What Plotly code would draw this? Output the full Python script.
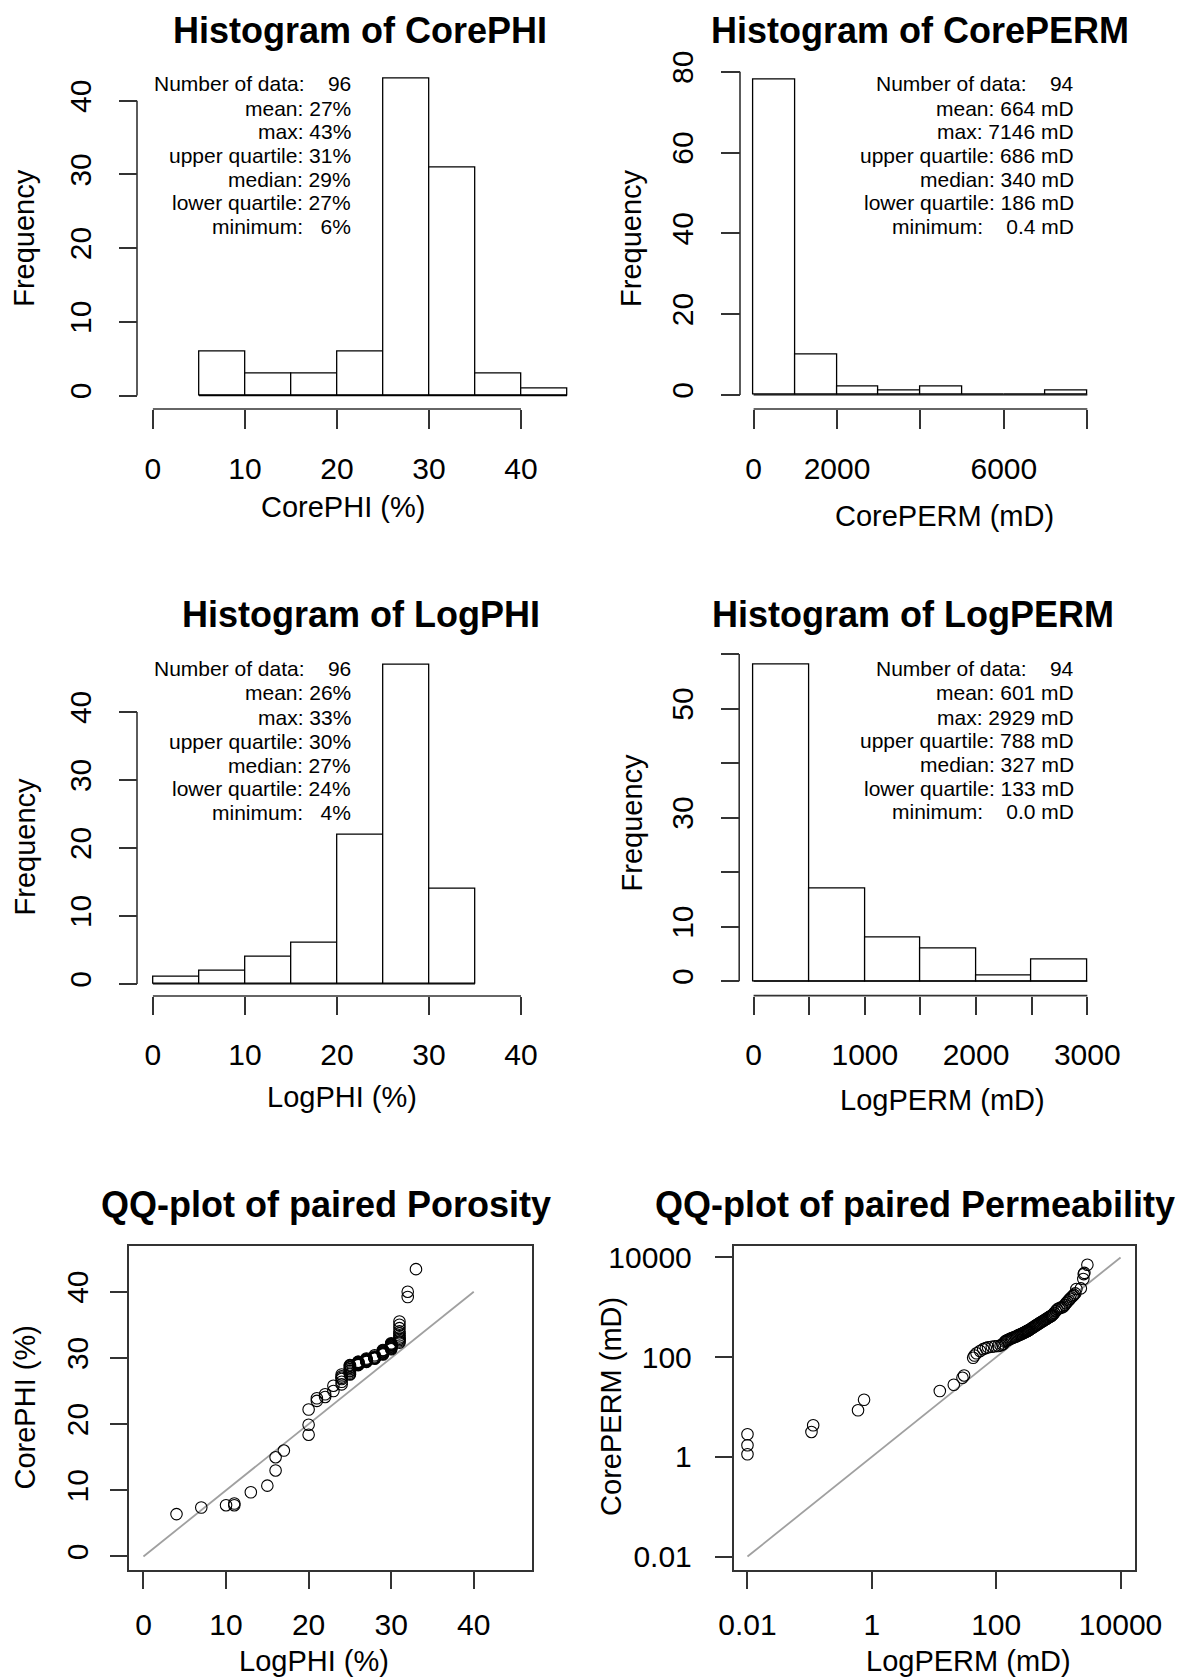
import plotly.graph_objects as go

W, H = 1184, 1679
FONT = "Liberation Sans, Arial, sans-serif"

# ---------------- data ----------------
corephi_edges = [5, 10, 15, 20, 25, 30, 35, 40, 45]
corephi_counts = [6, 3, 3, 6, 43, 31, 3, 1]

coreperm_edges = [0, 1000, 2000, 3000, 4000, 5000, 6000, 7000, 8000]
coreperm_counts = [78, 10, 2, 1, 2, 0, 0, 1]

logphi_edges = [0, 5, 10, 15, 20, 25, 30, 35]
logphi_counts = [1, 2, 4, 6, 22, 47, 14]

logperm_edges = [0, 500, 1000, 1500, 2000, 2500, 3000]
logperm_counts = [58, 17, 8, 6, 1, 4]

corephi_stats = ["Number of data:\u00a0\u00a0\u00a0\u00a096", "mean: 27%", "max: 43%",
                 "upper quartile: 31%", "median: 29%", "lower quartile: 27%",
                 "minimum:\u00a0\u00a0\u00a06%"]
coreperm_stats = ["Number of data:\u00a0\u00a0\u00a0\u00a094", "mean: 664 mD", "max: 7146 mD",
                  "upper quartile: 686 mD", "median: 340 mD", "lower quartile: 186 mD",
                  "minimum:\u00a0\u00a0\u00a0\u00a00.4 mD"]
logphi_stats = ["Number of data:\u00a0\u00a0\u00a0\u00a096", "mean: 26%", "max: 33%",
                "upper quartile: 30%", "median: 27%", "lower quartile: 24%",
                "minimum:\u00a0\u00a0\u00a04%"]
logperm_stats = ["Number of data:\u00a0\u00a0\u00a0\u00a094", "mean: 601 mD", "max: 2929 mD",
                 "upper quartile: 788 mD", "median: 327 mD", "lower quartile: 133 mD",
                 "minimum:\u00a0\u00a0\u00a0\u00a00.0 mD"]

# QQ plot of paired porosity (sorted quantiles)
qq_logphi = [4, 7, 10, 11, 11, 13, 15, 16, 16, 17, 20, 20, 20, 21, 21, 22, 22, 23, 23,
             24, 24, 24, 24, 24, 24,
             25, 25, 25, 25, 25, 25, 25, 25, 25, 25,
             26, 26, 26, 26, 26, 26, 26, 26, 26, 26,
             27, 27, 27, 27, 27, 27, 27, 27,
             28, 28, 28, 28, 28, 28, 28, 28, 28, 28,
             29, 29, 29, 29, 29, 29, 29, 29,
             30, 30, 30, 30, 30, 30, 30, 30, 30, 30, 30,
             31, 31, 31, 31, 31, 31, 31, 31, 31, 31, 31,
             32, 32, 33]
qq_corephi = [6.4, 7.4, 7.75, 7.75, 8.0, 9.7, 10.7, 13.0, 15.0, 16.0, 18.4, 19.9, 22.2,
              23.5, 23.9, 24.1, 24.5, 25.0, 25.8,
              26.0, 26.4, 26.8, 27.0, 27.2, 27.5,
              27.5, 27.6, 27.8, 28.0, 28.1, 28.3, 28.5, 28.6, 28.8, 28.9,
              28.9, 29.0, 29.0, 29.1, 29.2, 29.2, 29.3, 29.3, 29.4, 29.4,
              29.4, 29.5, 29.5, 29.6, 29.7, 29.7, 29.8, 29.9,
              29.9, 29.9, 30.0, 30.0, 30.0, 30.0, 30.0, 30.0, 30.2, 30.4,
              30.5, 30.6, 30.7, 30.8, 30.9, 31.0, 31.1, 31.2,
              31.3, 31.4, 31.5, 31.6, 31.7, 31.8, 31.9, 32.0, 32.0, 32.1, 32.2,
              32.3, 32.5, 32.7, 32.9, 33.1, 33.4, 33.7, 34.0, 34.5, 35.0, 35.5,
              39.2, 40.0, 43.4]

# QQ plot of paired permeability (sorted quantiles)
qq_logperm = [0.01, 0.01, 0.01, 0.107, 0.114, 0.6, 0.75, 12.4, 20.8, 28.7, 30.5,
              42.6, 44.8, 48.3, 55, 61.7, 68, 74, 85, 95, 108, 118, 126, 132,
              138, 144, 150, 157, 164, 172, 180, 189, 198, 208, 218, 228, 238, 248,
              258, 268, 278, 288, 297, 306, 314, 321, 327,
              338, 352, 366, 380, 395, 410, 425, 442, 460, 478, 496,
              515, 540, 565, 590, 615, 640, 665, 690, 715, 740, 760, 780, 790, 820,
              860, 910, 960,
              1030, 1090, 1150, 1210, 1270, 1330, 1400, 1470,
              1540, 1620, 1700, 1780, 1870, 1950,
              2300, 2520, 2560, 2620, 2929]
qq_coreperm = [1.13, 1.71, 2.84, 3.16, 4.3, 8.6, 14, 20.9, 28, 38.6, 43,
               97, 108, 120, 133, 145, 152, 158, 162, 165, 168, 172, 180, 188,
               205, 212, 218, 224, 230, 236, 242, 248, 254, 260, 267, 274, 281, 288,
               295, 302, 309, 316, 322, 328, 334, 338, 342,
               350, 362, 374, 386, 398, 410, 424, 438, 452, 466, 480,
               495, 512, 530, 548, 566, 584, 602, 620, 638, 655, 668, 680, 688, 720,
               770, 840, 910,
               960, 985, 998, 1040, 1120, 1210, 1300, 1390,
               1480, 1580, 1680, 1780, 1900, 2326,
               2400, 3690, 4640, 4900, 7146]

phi_line = [0, 40]
perm_line = [0.01, 10000]

# ---------------- helpers ----------------
def px(x):
    return x / W


def py(y):
    return 1 - y / H


def lin(v, v0, p0, v1, p1):
    return p0 + (v - v0) * (p1 - p0) / (v1 - v0)


AX_COL = "#333333"
AX_W = 1.6
tickfont = dict(family=FONT, size=30, color="black")

fig = go.Figure()
layout = {}
shapes = []


def add_hist(n, edges, counts, xt, xs, yt, ys,
             xpix, xr, ypix, yr, xline_y, yline_x, xlen, ylen):
    xa_id = "x" if n == 1 else "x%d" % n
    ya_id = "y" if n == 1 else "y%d" % n
    centers = [(edges[i] + edges[i + 1]) / 2 for i in range(len(counts))]
    widths = [edges[i + 1] - edges[i] for i in range(len(counts))]
    fig.add_trace(go.Bar(x=centers, y=counts, width=widths, xaxis=xa_id, yaxis=ya_id,
                         marker=dict(color="white", line=dict(color="black", width=1.3)),
                         showlegend=False, hoverinfo="skip"))
    fig.add_trace(go.Scatter(x=[edges[0], edges[-1]], y=[0, 0], xaxis=xa_id, yaxis=ya_id,
                             mode="lines", line=dict(color="black", width=1.3),
                             showlegend=False, hoverinfo="skip"))
    xd = [lin(xr[0], xt[0], xpix[0], xt[-1], xpix[1]), lin(xr[1], xt[0], xpix[0], xt[-1], xpix[1])]
    yd = [lin(yr[0], yt[0], ypix[0], yt[-1], ypix[1]), lin(yr[1], yt[0], ypix[0], yt[-1], ypix[1])]
    layout["xaxis" if n == 1 else "xaxis%d" % n] = dict(
        domain=[px(xd[0]), px(xd[1])], range=xr, anchor="free", position=py(xline_y),
        showline=False, ticks="outside", ticklen=xlen, tickwidth=AX_W, tickcolor=AX_COL,
        showgrid=False, zeroline=False, automargin=False,
        tickvals=xt, ticktext=xs, tickfont=tickfont, ticklabelstandoff=14)
    layout["yaxis" if n == 1 else "yaxis%d" % n] = dict(
        domain=[py(yd[0]), py(yd[1])], range=yr, anchor="free", position=px(yline_x),
        showline=False, ticks="outside", ticklen=ylen, tickwidth=AX_W, tickcolor=AX_COL,
        showgrid=False, zeroline=False, automargin=False,
        tickvals=yt, ticktext=ys, tickfont=tickfont, tickangle=-90, ticklabelstandoff=16)
    # R-style axis lines running from first to last tick
    shapes.append(dict(type="line", xref=xa_id, yref="paper", x0=xt[0], x1=xt[-1],
                       y0=py(xline_y), y1=py(xline_y), line=dict(color=AX_COL, width=AX_W)))
    shapes.append(dict(type="line", xref="paper", yref=ya_id, x0=px(yline_x), x1=px(yline_x),
                       y0=yt[0], y1=yt[-1], line=dict(color=AX_COL, width=AX_W)))


t40 = [0, 10, 20, 30, 40]
s40 = ["0", "10", "20", "30", "40"]

add_hist(1, corephi_edges, corephi_counts, t40, s40, t40, s40,
         (152.9, 521.0), [-1.8, 46.8], (395.5, 100.7), [-1.8, 46], 409, 137, 18.6, 18.1)
add_hist(2, coreperm_edges, coreperm_counts, [0, 2000, 4000, 6000, 8000],
         ["0", "2000", "", "6000", ""], [0, 20, 40, 60, 80], ["0", "20", "40", "60", "80"],
         (753.6, 1087.3), [-320, 8320], (394.9, 71.7), [-3.2, 82], 409, 740, 18.6, 18.9)
add_hist(3, logphi_edges, logphi_counts, t40, s40, t40, s40,
         (152.9, 521.0), [-1.8, 46.8], (983.9, 711.9), [-1.9, 49], 996, 137, 17.9, 18.1)
add_hist(4, logperm_edges, logperm_counts, [0, 500, 1000, 1500, 2000, 2500, 3000],
         ["0", "", "1000", "", "2000", "", "3000"], [0, 10, 20, 30, 40, 50, 60],
         ["0", "10", "", "30", "", "50", ""],
         (753.6, 1087.3), [-120, 3120], (981.2, 654), [-2.4, 61], 995.6, 739.2, 18.3, 18.1)

# QQ porosity
fig.add_trace(go.Scatter(x=phi_line, y=phi_line, xaxis="x5", yaxis="y5", mode="lines",
                         line=dict(color="#a0a0a0", width=1.8), showlegend=False, hoverinfo="skip"))
fig.add_trace(go.Scatter(x=qq_logphi, y=qq_corephi, xaxis="x5", yaxis="y5", mode="markers",
                         marker=dict(symbol="circle-open", size=11.5, color="black",
                                     line=dict(width=1.1, color="black")),
                         showlegend=False, hoverinfo="skip"))
# QQ permeability
fig.add_trace(go.Scatter(x=perm_line, y=perm_line, xaxis="x6", yaxis="y6", mode="lines",
                         line=dict(color="#a0a0a0", width=1.8), showlegend=False, hoverinfo="skip"))
fig.add_trace(go.Scatter(x=qq_logperm, y=qq_coreperm, xaxis="x6", yaxis="y6", mode="markers",
                         marker=dict(symbol="circle-open", size=11.5, color="black",
                                     line=dict(width=1.1, color="black")),
                         showlegend=False, hoverinfo="skip"))


def qq_axes(n, xdom, ydom, xr, yr, xtv, xtt, ytv, ytt, xtype, ya_angle, ystand):
    common = dict(showline=True, mirror=True, linecolor=AX_COL, linewidth=AX_W, ticks="outside",
                  ticklen=17, tickwidth=AX_W, tickcolor=AX_COL, showgrid=False, zeroline=False,
                  automargin=False, tickfont=tickfont, type=xtype)
    layout["xaxis%d" % n] = dict(domain=[px(xdom[0]), px(xdom[1])], range=xr, anchor="y%d" % n,
                                 tickvals=xtv, ticktext=xtt, ticklabelstandoff=10, **common)
    layout["yaxis%d" % n] = dict(domain=[py(ydom[1]), py(ydom[0])], range=yr, anchor="x%d" % n,
                                 tickvals=ytv, ticktext=ytt, tickangle=ya_angle,
                                 ticklabelstandoff=ystand, **common)


qq_axes(5, [129.1, 531.5], [1246.2, 1570], [-1.74, 46.99], [-2.04, 46.87],
        t40, s40, t40, s40, "linear", -90, 10)
pt = [0.01, 1, 100, 10000]
ps = ["0.01", "1", "100", "10000"]
qq_axes(6, [733.6, 1134.9], [1246, 1570], [-2.223, 4.231], [-2.27, 4.23],
        pt, ps, pt, ps, "log", 0, 17)


def ann(text, x, y, size, bold=False, angle=0, xanchor="center"):
    return dict(text=("<b>%s</b>" % text) if bold else text, x=px(x), y=py(y),
                xref="paper", yref="paper", showarrow=False, textangle=angle,
                xanchor=xanchor, yanchor="middle",
                font=dict(family=FONT, size=size, color="black"))


annotations = [
    ann("Histogram of CorePHI", 359.6, 30.4, 36, bold=True),
    ann("Histogram of CorePERM", 920, 30.4, 36, bold=True),
    ann("Histogram of LogPHI", 360.5, 614.4, 36, bold=True),
    ann("Histogram of LogPERM", 912.5, 614.4, 36, bold=True),
    ann("QQ-plot of paired Porosity", 325.6, 1204, 36, bold=True),
    ann("QQ-plot of paired Permeability", 914.8, 1204, 36, bold=True),
    ann("CorePHI (%)", 343, 507, 29),
    ann("CorePERM (mD)", 944, 515.5, 29),
    ann("LogPHI (%)", 341.7, 1096.5, 29),
    ann("LogPERM (mD)", 942, 1100, 29),
    ann("LogPHI (%)", 314, 1661, 29),
    ann("LogPERM (mD)", 968, 1661, 29),
    ann("Frequency", 24.5, 238.3, 29, angle=-90),
    ann("Frequency", 631.6, 238.3, 29, angle=-90),
    ann("Frequency", 24.5, 846.9, 29, angle=-90),
    ann("Frequency", 631.6, 822.8, 29, angle=-90),
    ann("CorePHI (%)", 24.5, 1408, 29, angle=-90),
    ann("CorePERM (mD)", 610.9, 1406, 29, angle=-90),
]

rows_top = [83.8, 108.2, 131.8, 155.5, 179.2, 202.8, 226.5]
rows_p3 = [668.8, 692.9, 717.1, 741.2, 765.3, 788.3, 812.4]
rows_p4 = [668.8, 692.9, 717.1, 740.1, 764.2, 788.3, 811.4]
for txt, yy in zip(corephi_stats, rows_top):
    annotations.append(ann(txt, 353, yy, 21, xanchor="right"))
for txt, yy in zip(coreperm_stats, rows_top):
    annotations.append(ann(txt, 1076, yy, 21, xanchor="right"))
for txt, yy in zip(logphi_stats, rows_p3):
    annotations.append(ann(txt, 353, yy, 21, xanchor="right"))
for txt, yy in zip(logperm_stats, rows_p4):
    annotations.append(ann(txt, 1076, yy, 21, xanchor="right"))

fig.update_layout(
    width=W, height=H, margin=dict(l=0, r=0, t=0, b=0, pad=0, autoexpand=False),
    paper_bgcolor="white", plot_bgcolor="rgba(0,0,0,0)",
    showlegend=False, bargap=0,
    annotations=annotations, shapes=shapes,
    font=dict(family=FONT, color="black"),
    **layout,
)

fig.write_html("out.html")
